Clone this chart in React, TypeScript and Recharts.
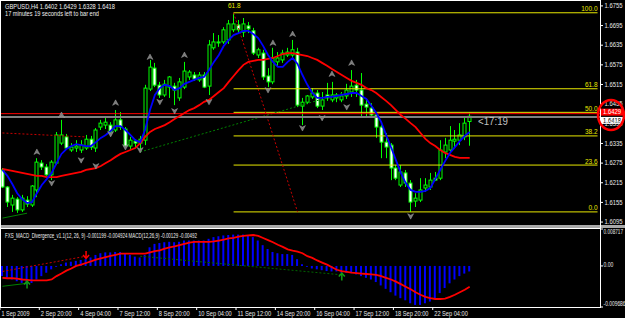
import React from "react";
import {
  ComposedChart,
  Bar,
  Line,
  XAxis,
  YAxis,
  ReferenceLine,
  ReferenceDot,
} from "recharts";

const FONT = '"Liberation Sans Narrow", "Liberation Sans", Arial, sans-serif';
const SLOTS = 122; // 96 bars + empty space on the right like MT4

// GBPUSD H4 candles (1 Sep 12:00 .. 22 Sep 2009)
const openP = [
  1.6254, 1.6202, 1.6147, 1.6165, 1.6132, 1.6162, 1.6147, 1.6193, 1.6275, 1.6263,
  1.6239, 1.6275, 1.6336, 1.6355, 1.6315, 1.6321, 1.6315, 1.6321, 1.6348, 1.6321,
  1.6385, 1.6391, 1.6391, 1.6376, 1.6407, 1.6379, 1.6327, 1.6342, 1.6336, 1.6345,
  1.6501, 1.6565, 1.6513, 1.6483, 1.6507, 1.651, 1.6474, 1.6507, 1.6538, 1.6544,
  1.6529, 1.6544, 1.651, 1.6627, 1.6642, 1.6645, 1.6651, 1.6682, 1.6697, 1.6675,
  1.6694, 1.6679, 1.6605, 1.6611, 1.6541, 1.6523, 1.6584, 1.659, 1.6605, 1.6605,
  1.6614, 1.6449, 1.6461, 1.6477, 1.6489, 1.6449, 1.6483, 1.6468, 1.6474, 1.6468,
  1.648, 1.6492, 1.6513, 1.6498, 1.6455, 1.6443, 1.6422, 1.6385, 1.6339, 1.633,
  1.626, 1.6208, 1.6245, 1.6214, 1.6159, 1.6162, 1.6199, 1.6202, 1.6229, 1.6229,
  1.6309, 1.6315, 1.6342, 1.6345, 1.6355, 1.6402,
];
const highP = [
  1.626, 1.6205, 1.6178, 1.6171, 1.6178, 1.6174, 1.6208, 1.629, 1.6284, 1.6272,
  1.6284, 1.637, 1.6407, 1.6364, 1.6336, 1.6345, 1.6345, 1.6361, 1.6358, 1.6382,
  1.6407, 1.6413, 1.64, 1.6437, 1.6431, 1.6385, 1.6355, 1.6348, 1.6358, 1.6514,
  1.659, 1.6581, 1.6523, 1.6529, 1.6541, 1.652, 1.6535, 1.6584, 1.6559, 1.6553,
  1.6553, 1.6553, 1.6651, 1.6672, 1.6666, 1.669, 1.6712, 1.6734, 1.6712, 1.6718,
  1.6706, 1.6688, 1.6627, 1.6621, 1.6565, 1.6627, 1.6614, 1.6621, 1.6627, 1.6651,
  1.6627, 1.6474, 1.6483, 1.6504, 1.6498, 1.6492, 1.652, 1.6523, 1.6489, 1.6492,
  1.6517, 1.6559, 1.6529, 1.655, 1.6468, 1.6458, 1.6428, 1.6391, 1.6367, 1.6336,
  1.6269, 1.6269, 1.6254, 1.6223, 1.6183, 1.6229, 1.6229, 1.6245, 1.6248, 1.6345,
  1.6352, 1.6388, 1.6376, 1.6397, 1.6413, 1.6429,
];
const lowP = [
  1.6199, 1.6141, 1.6126, 1.6123, 1.6126, 1.6141, 1.6141, 1.6171, 1.6254, 1.6236,
  1.6223, 1.6269, 1.633, 1.6315, 1.6309, 1.6309, 1.6306, 1.6315, 1.6315, 1.6309,
  1.6376, 1.6379, 1.6364, 1.637, 1.6376, 1.6321, 1.6318, 1.6324, 1.6309, 1.633,
  1.6495, 1.6507, 1.6474, 1.6477, 1.6474, 1.6452, 1.6465, 1.6501, 1.6529, 1.6526,
  1.6523, 1.6504, 1.6483, 1.6621, 1.663, 1.6639, 1.6639, 1.6675, 1.6672, 1.666,
  1.6672, 1.6605, 1.6596, 1.6529, 1.6507, 1.6516, 1.6571, 1.6581, 1.6599, 1.6596,
  1.6446, 1.6391, 1.6455, 1.6471, 1.6443, 1.6437, 1.6465, 1.6461, 1.6461, 1.6461,
  1.6471, 1.6477, 1.6477, 1.6416, 1.6416, 1.6416, 1.6352, 1.629, 1.629, 1.6223,
  1.6223, 1.6202, 1.6202, 1.6126, 1.6141, 1.6156, 1.6187, 1.6193, 1.622, 1.6223,
  1.629, 1.6309, 1.6321, 1.633, 1.6345, 1.6328,
];
const closeP = [
  1.6202, 1.6156, 1.6168, 1.6132, 1.6168, 1.615, 1.6205, 1.6278, 1.6263, 1.6239,
  1.6278, 1.6361, 1.6361, 1.6321, 1.6324, 1.6327, 1.633, 1.6348, 1.6324, 1.6376,
  1.6397, 1.64, 1.637, 1.6407, 1.6385, 1.6327, 1.6345, 1.6336, 1.6348, 1.6504,
  1.6568, 1.6513, 1.6483, 1.6516, 1.6538, 1.6498, 1.6523, 1.6556, 1.6553, 1.6532,
  1.6544, 1.6507, 1.6636, 1.6645, 1.6645, 1.6682, 1.67, 1.67, 1.6682, 1.67,
  1.6685, 1.6611, 1.6621, 1.6538, 1.6523, 1.6596, 1.6596, 1.6611, 1.6614, 1.6621,
  1.6452, 1.6461, 1.648, 1.6489, 1.6449, 1.6468, 1.6474, 1.6483, 1.6483, 1.648,
  1.6498, 1.651, 1.6498, 1.6452, 1.6446, 1.6422, 1.6385, 1.6339, 1.6324, 1.626,
  1.6229, 1.6248, 1.6214, 1.6156, 1.6168, 1.6193, 1.6208, 1.6223, 1.6223, 1.6315,
  1.633, 1.6345, 1.6348, 1.6361, 1.6397, 1.6418,
];

// moving averages (blue fast, red slow)
const maFast = [
  1.6254, 1.6236, 1.6211, 1.6183, 1.6165, 1.6153, 1.6156, 1.6183, 1.6208, 1.6226,
  1.6245, 1.6275, 1.6303, 1.6318, 1.6327, 1.6333, 1.633, 1.6327, 1.6327, 1.6339,
  1.6352, 1.6361, 1.6373, 1.6388, 1.6388, 1.6376, 1.6361, 1.6345, 1.6339, 1.6376,
  1.6437, 1.6483, 1.6504, 1.6514, 1.651, 1.6498, 1.6504, 1.6517, 1.6523, 1.6529,
  1.6535, 1.6538, 1.6559, 1.6584, 1.6605, 1.6633, 1.6651, 1.6666, 1.6672, 1.6679,
  1.6679, 1.6669, 1.6657, 1.6633, 1.6605, 1.6584, 1.6569, 1.6569, 1.6584, 1.6596,
  1.6578, 1.6544, 1.6514, 1.6489, 1.6474, 1.6474, 1.6477, 1.6477, 1.648, 1.6483,
  1.6486, 1.6489, 1.6489, 1.648, 1.6471, 1.645, 1.6428, 1.6401, 1.6361, 1.6324,
  1.6284, 1.6245, 1.6214, 1.6193, 1.6187, 1.6187, 1.619, 1.6199, 1.6226, 1.6254,
  1.6281, 1.6306, 1.6324, 1.6342, 1.6358, 1.637,
];
const maSlow = [
  1.6257, 1.6254, 1.6251, 1.6248, 1.6245, 1.6242, 1.6239, 1.6236, 1.6236, 1.6232,
  1.6232, 1.6232, 1.6236, 1.6239, 1.6242, 1.6245, 1.6248, 1.6254, 1.6257, 1.626,
  1.6266, 1.6275, 1.6284, 1.6294, 1.6303, 1.6309, 1.6315, 1.6321, 1.6336, 1.6355,
  1.637, 1.6379, 1.6385, 1.6391, 1.64, 1.641, 1.6419, 1.6428, 1.6437, 1.6443,
  1.6452, 1.6462, 1.6468, 1.648, 1.6492, 1.6504, 1.6523, 1.6541, 1.6559, 1.6575,
  1.6584, 1.6587, 1.659, 1.659, 1.6593, 1.6596, 1.6602, 1.6608, 1.6611, 1.6611,
  1.6608, 1.6605, 1.6602, 1.6596, 1.659, 1.6581, 1.6572, 1.6562, 1.6553, 1.6544,
  1.6535, 1.6526, 1.652, 1.6514, 1.6504, 1.6498, 1.6489, 1.6477, 1.6465, 1.6452,
  1.6437, 1.6422, 1.641, 1.6397, 1.6385, 1.6367, 1.6349, 1.6336, 1.6327, 1.6315,
  1.6306, 1.63, 1.6294, 1.6291, 1.6291, 1.6291,
];

// MACD(12,26,9) sub window
const macdMain = [
  -0.0024, -0.0028, -0.0032, -0.0036, -0.004, -0.0044, -0.004, -0.0032, -0.0024, -0.0016,
  -0.0008, -0.0002, 0.0004, 0.0008, 0.001, 0.0012, 0.0014, 0.0016, 0.002, 0.0026,
  0.003, 0.0032, 0.0032, 0.0033, 0.0033, 0.003, 0.0026, 0.0022, 0.002, 0.0026,
  0.0044, 0.0052, 0.0054, 0.0056, 0.0057, 0.0056, 0.0057, 0.006, 0.006, 0.006,
  0.006, 0.006, 0.0064, 0.0068, 0.007, 0.0072, 0.0073, 0.0074, 0.0074, 0.0074,
  0.0072, 0.0068, 0.006, 0.0049, 0.004, 0.0033, 0.003, 0.0028, 0.0028, 0.0026,
  0.0016, 0.0004, -0.0002, -0.0006, -0.0008, -0.001, -0.0012, -0.0013, -0.0013, -0.0016,
  -0.0016, -0.0017, -0.002, -0.0024, -0.0028, -0.0032, -0.0038, -0.0046, -0.0054, -0.0062,
  -0.007, -0.0076, -0.0081, -0.0088, -0.0092, -0.0092, -0.0088, -0.0084, -0.0076, -0.0064,
  -0.0052, -0.0041, -0.0032, -0.0024, -0.0018, -0.0013,
];
const macdSignal = [
  -0.0028, -0.0029, -0.0029, -0.003, -0.0032, -0.0033, -0.0034, -0.0034, -0.0034, -0.0034,
  -0.0032, -0.0024, -0.0018, -0.0011, -0.0006, 0.0, 0.0003, 0.0007, 0.0011, 0.0015,
  0.0018, 0.0021, 0.0024, 0.0026, 0.0029, 0.0029, 0.0029, 0.0029, 0.0029, 0.0029,
  0.0032, 0.0035, 0.0037, 0.0041, 0.0044, 0.0046, 0.0049, 0.0052, 0.0055, 0.0057,
  0.0057, 0.0057, 0.0057, 0.0058, 0.006, 0.0062, 0.0065, 0.0066, 0.0069, 0.0071,
  0.0072, 0.0073, 0.0071, 0.0066, 0.0061, 0.0056, 0.005, 0.0045, 0.0039, 0.0036,
  0.0034, 0.003, 0.0023, 0.0019, 0.0013, 0.0008, 0.0003, -0.0003, -0.0009, -0.0012,
  -0.0014, -0.0016, -0.0017, -0.0018, -0.0019, -0.002, -0.0021, -0.0024, -0.0028, -0.0032,
  -0.0037, -0.0043, -0.0049, -0.0055, -0.0062, -0.0068, -0.0073, -0.0076, -0.0078, -0.0078,
  -0.0077, -0.0073, -0.0068, -0.0062, -0.0056, -0.0049,
];

const priceTicks = [
  1.6755, 1.6695, 1.6635, 1.6575, 1.6515, 1.6455, 1.6395, 1.6335, 1.6275, 1.6215, 1.6155, 1.6095,
];
const macdTicks = [0.008717, 0, -0.009686];
const timeTickBars = [0, 8, 16, 24, 32, 40, 48, 56, 64, 72, 80, 88];
const timeTickLabels = [
  "1 Sep 2009", "2 Sep 20:00", "4 Sep 04:00", "7 Sep 12:00", "8 Sep 20:00", "10 Sep 04:00",
  "11 Sep 12:00", "14 Sep 20:00", "16 Sep 04:00", "17 Sep 12:00", "18 Sep 20:00", "22 Sep 04:00",
];

// fibo retracement 1.6734 -> 1.6126
const fibLabels = ["100.0", "61.8", "50.0", "38.2", "23.6", "0.0"];
const fibPrices = [1.6734, 1.6502, 1.643, 1.6358, 1.6269, 1.6126];
const fibStartBar = 47;

const fractalUpBars = [7, 12, 23, 30, 37, 55, 59, 67, 71];
const fractalUpPrices = [1.6309, 1.6422, 1.6459, 1.6599, 1.6605, 1.6642, 1.6669, 1.6547, 1.6581];
const fractalDnBars = [10, 16, 19, 22, 25, 28, 32, 35, 42, 54, 61, 65, 70, 83];
const fractalDnPrices = [
  1.6214, 1.6284, 1.6266, 1.6364, 1.6324, 1.6315, 1.6462, 1.6434, 1.6462, 1.6498, 1.6382,
  1.6413, 1.6446, 1.6113,
];

const askLine = 1.6426;
const bidLine = 1.6416;

const mainTrends = [
  { a: [47, 1.6734], b: [60, 1.6126], color: "#c80000", dash: "2 2" },
  { a: [0, 1.6367], b: [17, 1.6355], color: "#c80000", dash: "2 2" },
  { a: [28, 1.6309], b: [70, 1.6492], color: "#008000", dash: "2 2" },
  { a: [0, 1.6107], b: [5, 1.6122], color: "#008000", dash: undefined },
];
const subTrends = [
  { a: [0, -0.0013], b: [17, 0.0023], color: "#c80000", dash: "2 2" },
  { a: [0, -0.0048], b: [5, -0.0041], color: "#008000", dash: undefined },
  { a: [28, 0.0023], b: [69, -0.0021], color: "#006400", dash: "2 2" },
];
const subArrowBars = [17, 5, 69];
const subArrowValues = [0.0026, -0.0044, -0.0025];
const subArrowUp = [false, true, true];

const rows = Array.from({ length: SLOTS }, (_, i) => ({
  i,
  o: openP[i],
  h: highP[i],
  l: lowP[i],
  c: closeP[i],
  fast: maFast[i],
  slow: maSlow[i],
  macd: macdMain[i],
  sig: macdSignal[i],
}));

const Candle = (props: any) => {
  const { x, y, width, height, payload } = props;
  if (!payload || payload.h == null) return <g />;
  const top = Math.min(y, y + height);
  const bot = Math.max(y, y + height);
  const k = (bot - top) / (payload.h - payload.l || 1);
  const px = Math.floor(x + width / 2);
  const yo = top + (payload.h - payload.o) * k;
  const yc = top + (payload.h - payload.c) * k;
  const bull = payload.c >= payload.o;
  const bt = Math.min(yo, yc);
  const bh = Math.max(Math.abs(yc - yo), 1);
  return (
    <g>
      <line x1={px + 0.5} x2={px + 0.5} y1={top} y2={bot} stroke="#00ff00" strokeWidth={1} />
      <rect
        x={px - 1}
        y={bt}
        width={3}
        height={bh}
        fill={bull ? "#000000" : "#ffffff"}
        stroke="#00ff00"
        strokeWidth={1}
      />
    </g>
  );
};

const Fractal = ({ cx, cy, up }: { cx: number; cy: number; up: boolean }) => {
  if (cx == null || cy == null) return <g />;
  const s = up ? 1 : -1;
  const d = `M${cx},${cy - 3 * s} L${cx + 3},${cy + 2.5 * s} L${cx},${cy + 1 * s} L${cx - 3},${cy + 2.5 * s} Z`;
  return <path d={d} fill="#7a7a7a" stroke="#b0b0b0" strokeWidth={0.4} />;
};

const SignalArrow = ({ cx, cy, up, color }: any) => {
  if (cx == null || cy == null) return <g />;
  const s = up ? -1 : 1;
  return (
    <g stroke={color} strokeWidth={1.5} fill="none">
      <line x1={cx} x2={cx} y1={cy - 4 * s} y2={cy + 3 * s} />
      <path d={`M${cx - 3},${cy} L${cx},${cy + 3.5 * s} L${cx + 3},${cy}`} />
    </g>
  );
};

const PriceTick = (props: any) => {
  const { x, y, payload } = props;
  return (
    <g>
      <line x1={x} x2={x + 3} y1={y} y2={y} stroke="#ffffff" />
      <text
        x={x + 4.5}
        y={y + 2.3}
        fill="#e8e8e8"
        fontSize={6.8}
        fontFamily={FONT}
        textLength={18}
        lengthAdjust="spacingAndGlyphs"
      >
        {payload.value.toFixed(4)}
      </text>
    </g>
  );
};

const MacdTick = (props: any) => {
  const { x, y, payload } = props;
  const v = payload.value;
  const dy = v > 0 ? 4.5 : v < 0 ? -1.5 : 1;
  const txt = v === 0 ? "0.00" : v.toFixed(6);
  return (
    <g>
      <line x1={x} x2={x + 3} y1={y} y2={y} stroke="#ffffff" />
      <text
        x={x + 3.5}
        y={y + dy}
        fill="#e8e8e8"
        fontSize={6.8}
        fontFamily={FONT}
        textLength={txt.length * 2.45}
        lengthAdjust="spacingAndGlyphs"
      >
        {txt}
      </text>
    </g>
  );
};

const TimeTick = (props: any) => {
  const { x, y, payload } = props;
  const idx = timeTickBars.indexOf(payload.value);
  const txt = timeTickLabels[idx] || "";
  return (
    <g>
      <line x1={x - 2.5} x2={x - 2.5} y1={y} y2={y + 3} stroke="#ffffff" />
      <text
        x={x - 1}
        y={y + 9}
        fill="#e8e8e8"
        fontSize={6.8}
        fontFamily={FONT}
        textLength={txt.length * 2.8}
        lengthAdjust="spacingAndGlyphs"
      >
        {txt}
      </text>
    </g>
  );
};

const fibLabel = (text: string) => (props: any) => {
  const vb = props.viewBox || {};
  return (
    <text
      x={(vb.x || 0) + (vb.width || 0)}
      y={(vb.y || 0) - 1.5}
      textAnchor="end"
      fill="#e8e800"
      fontSize={6.5}
      fontFamily={FONT}
    >
      {text}
    </text>
  );
};

const priceBox = (text: string, bg: string, fg: string, dy: number, h: number) => (props: any) => {
  const vb = props.viewBox || {};
  const x0 = (vb.x || 0) + (vb.width || 0) + 1;
  const y0 = (vb.y || 0) + dy;
  return (
    <g>
      <rect x={x0} y={y0 - h / 2} width={22} height={h} fill={bg} />
      <text
        x={x0 + 2}
        y={y0 + 2.3}
        fill={fg}
        fontSize={6.3}
        fontFamily={FONT}
        textLength={18}
        lengthAdjust="spacingAndGlyphs"
      >
        {text}
      </text>
    </g>
  );
};

export default function App() {
  return (
    <div
      style={{
        position: "absolute",
        left: 0,
        top: 0,
        width: 625,
        height: 318,
        background: "#000000",
        overflow: "hidden",
      }}
    >
      {/* main window */}
      <div style={{ position: "absolute", left: 0, top: 0 }}>
        <ComposedChart
          width={625}
          height={225}
          data={rows}
          margin={{ top: 0, right: 0, bottom: 0, left: 0 }}
        >
          <XAxis dataKey="i" type="category" hide />
          <YAxis
            orientation="right"
            type="number"
            width={25}
            domain={[1.6086, 1.6773]}
            allowDataOverflow
            ticks={priceTicks}
            interval={0}
            tickSize={0}
            tickMargin={0}
            tickLine={false}
            axisLine={false}
            tick={(p: any) => <PriceTick {...p} />}
          />
          {fibPrices.map((p, k) => (
            <ReferenceLine
              key={"fib" + k}
              segment={[
                { x: fibStartBar, y: p },
                { x: SLOTS - 1, y: p },
              ]}
              stroke="#e8e800"
              strokeWidth={1}
              ifOverflow="visible"
              label={fibLabel(fibLabels[k])}
            />
          ))}
          {mainTrends.map((t, k) => (
            <ReferenceLine
              key={"tr" + k}
              segment={[
                { x: t.a[0], y: t.a[1] },
                { x: t.b[0], y: t.b[1] },
              ]}
              stroke={t.color}
              strokeDasharray={t.dash}
              ifOverflow="visible"
            />
          ))}
          <ReferenceLine
            y={bidLine}
            stroke="#808080"
            strokeWidth={2}
            label={priceBox("1.6418", "#ffffff", "#000000", 3.5, 7)}
          />
          <ReferenceLine
            y={askLine}
            stroke="#ff0000"
            strokeWidth={1}
            label={priceBox("1.6429", "#ff0000", "#ffffff", -1.5, 7)}
          />
          <Bar
            dataKey={(r: any) => (r.h == null ? undefined : [r.l, r.h])}
            shape={(p: any) => <Candle {...p} />}
            isAnimationActive={false}
          />
          <Line
            dataKey="slow"
            stroke="#ff0000"
            strokeWidth={1.8}
            dot={false}
            activeDot={false}
            isAnimationActive={false}
          />
          <Line
            dataKey="fast"
            stroke="#0000ff"
            strokeWidth={1.8}
            dot={false}
            activeDot={false}
            isAnimationActive={false}
          />
          {fractalUpBars.map((b, k) => (
            <ReferenceDot
              key={"fu" + k}
              x={b}
              y={fractalUpPrices[k]}
              r={3}
              shape={(p: any) => <Fractal cx={p.cx} cy={p.cy} up />}
            />
          ))}
          {fractalDnBars.map((b, k) => (
            <ReferenceDot
              key={"fd" + k}
              x={b}
              y={fractalDnPrices[k]}
              r={3}
              shape={(p: any) => <Fractal cx={p.cx} cy={p.cy} up={false} />}
            />
          ))}
        </ComposedChart>
      </div>

      {/* MACD window */}
      <div style={{ position: "absolute", left: 0, top: 228 }}>
        <ComposedChart
          width={625}
          height={90}
          data={rows}
          margin={{ top: 1, right: 0, bottom: 0, left: 0 }}
        >
          <XAxis
            dataKey="i"
            type="category"
            height={11}
            ticks={timeTickBars}
            interval={0}
            tickSize={0}
            tickMargin={0}
            tickLine={false}
            axisLine={false}
            tick={(p: any) => <TimeTick {...p} />}
          />
          <YAxis
            orientation="right"
            type="number"
            width={25}
            domain={[-0.009686, 0.008717]}
            allowDataOverflow
            ticks={macdTicks}
            interval={0}
            tickSize={0}
            tickMargin={0}
            tickLine={false}
            axisLine={false}
            tick={(p: any) => <MacdTick {...p} />}
          />
          <Bar dataKey="macd" fill="#0000ff" barSize={2} isAnimationActive={false} />
          {subTrends.map((t, k) => (
            <ReferenceLine
              key={"st" + k}
              segment={[
                { x: t.a[0], y: t.a[1] },
                { x: t.b[0], y: t.b[1] },
              ]}
              stroke={t.color}
              strokeDasharray={t.dash}
              ifOverflow="visible"
            />
          ))}
          <Line
            dataKey="sig"
            stroke="#ff0000"
            strokeWidth={1.8}
            dot={false}
            activeDot={false}
            isAnimationActive={false}
          />
          {subArrowBars.map((b, k) => (
            <ReferenceDot
              key={"sa" + k}
              x={b}
              y={subArrowValues[k]}
              r={3}
              shape={(p: any) => (
                <SignalArrow
                  cx={p.cx}
                  cy={p.cy}
                  up={subArrowUp[k]}
                  color={subArrowUp[k] ? "#10a010" : "#ff0000"}
                />
              )}
            />
          ))}
        </ComposedChart>
      </div>

      {/* frame, captions and annotations */}
      <svg
        width={625}
        height={318}
        style={{ position: "absolute", left: 0, top: 0, pointerEvents: "none" }}
      >
        <rect x={0} y={225} width={625} height={3} fill="#a8a8a8" />
        <line x1={0.5} x2={0.5} y1={0} y2={307} stroke="#ffffff" />
        <line x1={0} x2={600} y1={0.5} y2={0.5} stroke="#ffffff" />
        <line x1={600.5} x2={600.5} y1={0} y2={308} stroke="#ffffff" />
        <line x1={0} x2={601} y1={228.5} y2={228.5} stroke="#ffffff" />
        <line x1={0} x2={601} y1={307.5} y2={307.5} stroke="#ffffff" />
        <text
          x={5}
          y={8.5}
          fill="#f0f0f0"
          fontSize={7}
          fontFamily={FONT}
          textLength={110}
          lengthAdjust="spacingAndGlyphs"
        >
          GBPUSD,H4 1.6402 1.6429 1.6328 1.6418
        </text>
        <text
          x={5}
          y={16}
          fill="#f0f0f0"
          fontSize={7}
          fontFamily={FONT}
          textLength={94}
          lengthAdjust="spacingAndGlyphs"
        >
          17 minutes 19 seconds left to bar end
        </text>
        <text
          x={5}
          y={237.5}
          fill="#f0f0f0"
          fontSize={7}
          fontFamily={FONT}
          textLength={192}
          lengthAdjust="spacingAndGlyphs"
        >
          FXS_MACD_Divergence_v1.1(12, 26, 9) -0.001199 -0.004924 MACD(12,26,9) -0.00129 -0.00492
        </text>
        <text x={228} y={8} fill="#e8e800" fontSize={6.5} fontFamily={FONT}>
          61.8
        </text>
        <text
          x={478}
          y={125}
          fill="#c0c0c0"
          fontSize={10}
          fontFamily='"Liberation Sans", Arial, sans-serif'
          textLength={30}
          lengthAdjust="spacingAndGlyphs"
        >
          {"<17:19"}
        </text>
        <ellipse cx={611} cy={115} rx={13} ry={15} fill="none" stroke="#ff0000" strokeWidth={2.5} />
      </svg>
    </div>
  );
}
